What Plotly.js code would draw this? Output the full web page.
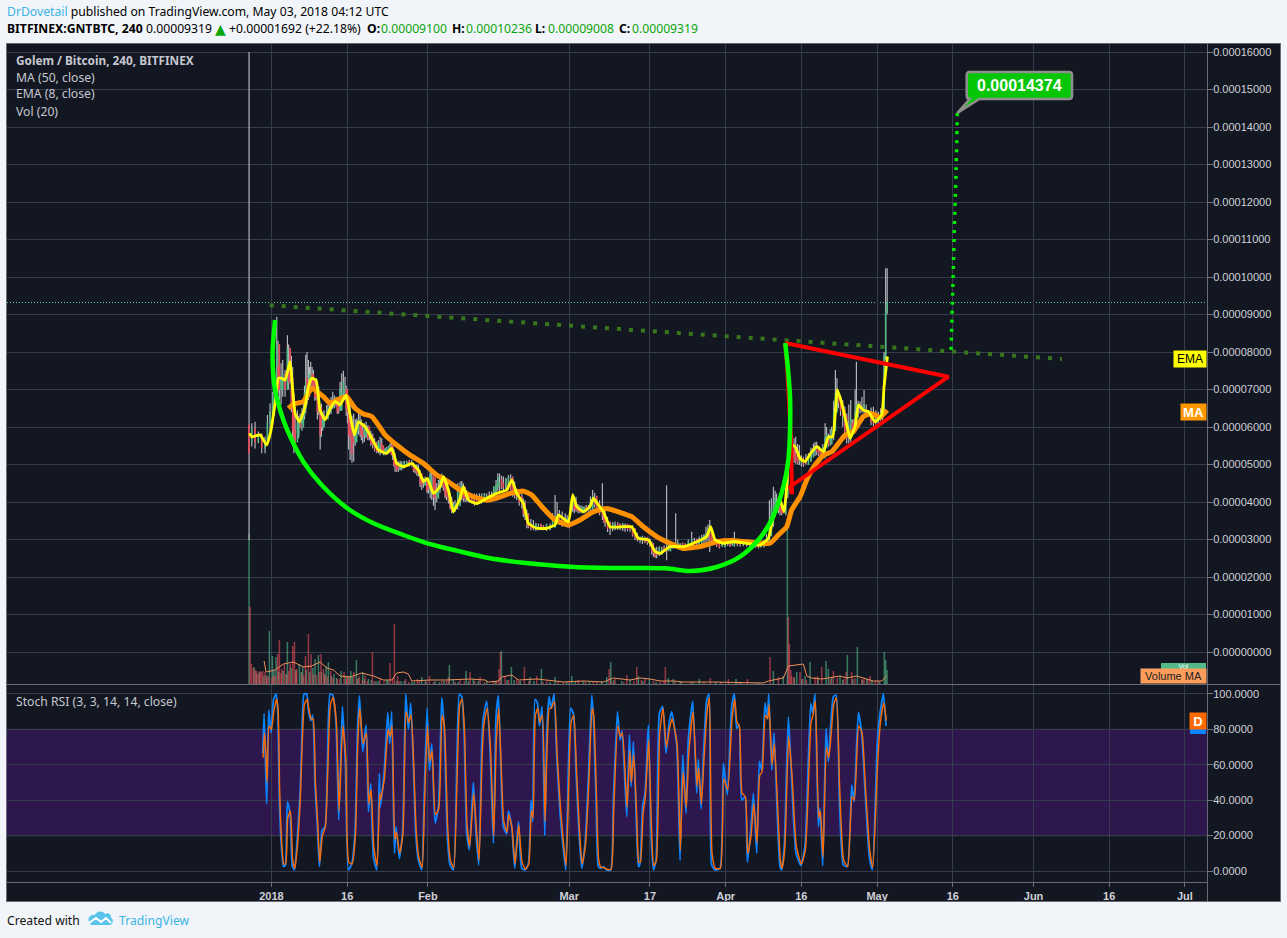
<!DOCTYPE html>
<html><head><meta charset="utf-8">
<script src="https://cdn.plot.ly/plotly-3.0.1.min.js"></script>
<style>html,body{margin:0;padding:0;background:#f1f5f9;overflow:hidden}#c{width:1287px;height:938px}</style>
</head><body><div id="c"></div>
<script>
// Time values are days since 2018-01-01; prices are in satoshi (1e-8 BTC)
const candleDays=[-4.44,-3.9,-3.25,-2.6,-1.93,-1.27,-.8,-.28,.25,1.05,1.57,2.23,2.7,3.16,3.69,4.2,4.68,5.14,5.67,6.33,6.79,7.32,7.78,8.31,8.84,9.37,9.9,10.42,10.95,11.48,12.14,12.8,13.33,13.92,14.58,15.05,15.58,16.3,16.9,17.56,18.09,18.75,19.4,20.07,20.86,21.52,22.18,22.84,23.5,24.03,24.49,25.15,25.81,26.8,27.8,28.46,29.12,29.78,30.44,31.1,31.76,32.42,33.08,33.74,34.4,35.06,35.72,36.38,37.37,38.03,38.69,39.68,40.67,41.66,42.66,43.65,44.5,45.2,45.96,46.95,47.8,48.6,49.6,50.25,50.9,51.9,52.9,53.9,55.2,56.2,57.05,58.2,59,59.69,60.35,61.14,61.94,62.79,63.65,64.45,65.57,66.1,67.09,68.08,69.07,70.06,71.05,72.04,73.03,74,75,75.67,76.33,77.33,78.3,79.1,80.1,80.96,81.95,83.27,84.26,85.25,86.1,86.84,87.7,88.75,89.87,90.87,91.72,92.85,94.17,95.36,96.48,97.6,98.66,99.45,100.1,100.77,101.43,101.9,102.3,102.75,103.2,103.88,104.6,105.4,106.4,107.38,108.04,108.83,109.7,110.35,111,111.74,112.33,113.19,113.98,114.78,115.43,115.9,116.62,117.42,118.28,119.27,120.26,121.1,121.4,121.7,122,
 .6,1.3,1.9,3.4,3.95,4.45,5.4,6.05,6.55,7.05,7.55,8.05,8.6,9.1,9.65,10.15,11.2,11.8,12.45,13.05,13.6,14.25,14.8,15.3,15.95,16.6,17.25,17.8,18.4,19.1,19.7,20.45,21.2,21.85,22.5,23.2,23.75,24.25,24.8,25.5,26.3,27.3,28.15,28.8,29.45,30.1,30.8,31.45,32.1,32.75,33.4,34.05,34.7,35.4,36.05,36.9,37.7,38.35,39.2,40.2,41.2,42.2,43.15,44.05,44.85,45.6,46.45,47.4,48.2,49.1,49.9,50.6,51.4,52.4,53.4,54.5,55.7,56.6,57.6,58.6,60,60.75,61.55,62.35,63.2,64.05,65,65.85,66.6,67.6,68.6,69.6,70.55,71.55,72.5,73.5,74.5,75.35,76,76.85,77.8,78.7,79.6,80.5,81.45,82.6,83.8,84.75,85.7,86.5,87.25,88.2,89.3,90.4,91.3,92.3,93.5,94.8,95.9,97,98.1,99.05,99.8,100.45,101.1,103.55,104.25,105,105.9,106.9,107.7,108.45,109.25,110,110.7,111.4,112.05,112.75,113.6,114.4,115.1,115.65,116.25,117,117.85,118.8,119.75,120.7,121.25];
const candleHigh=[16000,6100,6140,5880,5830,5740,6320,6630,6940,8940,7920,7790,7520,8450,8010,7610,6540,6450,6360,6720,7920,7790,7740,7520,7300,7080,6630,6450,6590,6630,6940,6810,6760,7430,7340,6940,6630,6360,6230,6360,6100,6140,6010,5830,5610,5740,5470,5470,5560,5520,5300,5080,5080,5100,5120,4990,4990,4720,4680,4590,4900,4410,4590,4760,4540,4410,4140,4050,4540,4500,4320,4230,4230,4230,4230,4280,4590,4760,4680,4720,4680,4360,4230,4050,3700,3520,3430,3390,3430,4190,3790,3700,3610,4230,4140,3920,3880,3920,4320,4100,4500,3790,3480,3480,3430,3430,3390,3300,3080,3080,3030,2900,2810,2810,4450,2900,3700,2900,2900,3210,3030,3120,3340,3520,3120,2990,2990,2990,3210,2990,2940,2940,2900,2990,4050,4410,4230,4050,3880,4230,5070,5790,5790,5740,5520,5210,5300,5560,5610,5430,6100,5830,6010,7520,6990,6720,6360,6720,6100,7740,6680,6990,6450,6540,6410,6590,8000,10236,10236,
 7800,8300,7700,8200,7900,6900,6300,6500,7100,8000,7600,7600,7300,7000,6500,6400,6600,6800,6850,6750,7200,7500,7100,6800,6300,6200,6400,6200,6100,6050,5900,5700,5650,5700,5450,5500,5580,5400,5100,5100,5100,5130,5050,5000,4850,4650,4620,4950,4800,4500,4700,4700,4500,4250,4000,4500,4560,4400,4250,4230,4230,4240,4280,4420,4770,4700,4650,4740,4550,4300,4100,3800,3550,3450,3420,3420,3700,4000,3750,3650,4100,3950,3900,3920,4150,4250,4050,3800,3600,3470,3460,3440,3420,3380,3180,3100,3060,2950,2780,2820,2850,2950,2920,3000,2920,3000,3050,3080,3150,3400,3250,3020,2980,3000,3050,3000,2950,2950,2920,2960,3150,4100,4300,4100,3950,5700,5550,5250,5280,5450,5600,5500,5550,6000,5950,6700,7300,6850,6550,6600,6200,7000,6700,6800,6600,6520,6450,6500,6700];
const candleLow=[2990,5480,5430,5570,5300,5300,5520,5880,6100,6990,6720,6810,6810,7080,7165,5480,5480,5830,5960,6190,6360,6720,6990,6990,6720,6320,5740,6050,6230,6320,6540,6540,6360,6540,6760,6100,5120,5080,5790,5740,5570,5700,5650,5430,5300,5250,5250,5300,5340,5120,4810,4810,4850,4940,4940,4760,4680,4320,4450,4230,4050,3790,4140,4410,4100,3960,3700,3740,3960,4010,4010,3960,3920,3960,4050,4050,4230,4280,4320,4320,4140,4050,3830,3520,3300,3250,3250,3250,3250,3340,3390,3340,3300,3740,3740,3700,3700,3740,3880,3790,3520,3340,3120,3250,3250,3210,3210,2990,2900,2900,2810,2540,2500,2630,2450,2760,2760,2760,2720,2810,2810,2850,2900,2670,2940,2760,2810,2810,2810,2810,2810,2810,2760,2810,3080,3340,3880,3650,3700,3650,4100,5070,5030,5030,4990,4940,5030,5210,5250,5210,5160,5480,5560,6280,6500,6010,5560,5610,5830,6190,6360,6360,6280,6010,6140,6190,6400,7800,9008,
 6300,6900,6600,7000,6400,5300,5700,5900,6200,6600,6800,7000,6700,6200,5400,5900,6200,6350,6500,6350,6450,6700,6300,5400,5050,5500,5800,5650,5600,5650,5500,5350,5300,5300,5250,5300,5250,4950,4800,4850,4900,4950,4800,4700,4400,4380,4250,4100,3900,4000,4250,4300,4050,3800,3700,3800,4050,4000,3980,3900,3950,4040,4060,4150,4300,4350,4320,4300,4100,3900,3600,3300,3250,3230,3250,3230,3340,3400,3340,3320,3700,3700,3700,3720,3780,3850,3650,3450,3200,3220,3260,3230,3220,3080,2950,2880,2860,2600,2510,2560,2680,2700,2750,2760,2740,2760,2820,2820,2880,2950,2900,2800,2800,2830,2830,2820,2820,2820,2780,2790,2850,3100,3600,3700,3650,5050,5000,4950,5000,5080,5230,5230,5180,5450,5500,5650,6400,6300,5800,5560,5820,5900,6250,6380,6280,6050,6060,6170,6300];
const candleOpen=[6050,5600,5950,5600,5800,5450,5650,6100,6400,6800,8200,7000,7400,7000,8100,7300,5900,5600,6100,6000,6500,7200,7000,7400,7100,6800,6500,6000,6250,6400,6500,6700,6600,6450,6900,7000,6400,5700,5600,6000,5900,5750,6000,5750,5550,5350,5500,5350,5420,5500,5250,4950,4900,5000,5050,4980,4850,4750,4450,4600,4350,4650,4100,4400,4650,4200,4050,3780,3900,4300,4100,4150,4050,4000,4100,4150,4200,4450,4500,4400,4650,4300,4150,3950,3650,3350,3300,3350,3280,3330,3600,3450,3550,3900,4000,3800,3750,3850,3780,4150,3850,3650,3450,3300,3400,3330,3380,3280,3050,3000,2950,2850,2650,2600,2750,2700,2850,2820,2870,2780,3000,2900,3050,3150,3000,2980,2800,2930,2850,2950,2880,2900,2850,2800,2950,3400,3900,4000,3750,3700,4200,5000,5500,5300,5100,5150,5000,5200,5400,5350,5250,5700,5550,5900,6900,6650,6300,5700,6200,5950,6600,6500,6400,6350,6100,6250,6450,7900,9100,
 6500,7600,7000,7700,7500,6500,5800,6100,6300,7300,6900,7400,7200,6800,6400,6000,6250,6400,6600,6650,6450,6900,7000,6600,6000,5600,5900,6100,5800,5950,5750,5550,5400,5550,5350,5350,5500,5300,5000,4880,4950,5080,5020,4900,4800,4500,4580,4300,4700,4150,4350,4680,4400,4150,3850,3950,4300,4400,4100,4200,3980,4100,4180,4180,4400,4600,4400,4600,4400,4200,4000,3700,3400,3280,3400,3290,3380,3500,3600,3450,3950,3850,3750,3850,3780,4100,3950,3700,3500,3300,3420,3320,3400,3280,3120,3000,3050,2920,2700,2600,2780,2700,2880,2790,2900,2800,2950,2850,3000,3100,3250,2950,2850,2950,2880,3000,2880,2920,2860,2820,2920,3100,3800,4050,3800,5400,5200,5050,5100,5080,5350,5450,5300,5450,5650,5800,6400,6800,6450,5800,6100,5900,6500,6550,6450,6350,6150,6200,6350];
const candleClose=[5300,5950,5600,5800,5450,5650,6100,6400,6800,8200,7000,7400,7000,8100,7300,5900,5600,6100,6000,6500,7200,7000,7400,7100,6800,6500,6000,6250,6400,6500,6700,6600,6450,6900,7000,6400,5700,5600,6000,5900,5750,6000,5750,5550,5350,5500,5350,5420,5500,5250,4950,4900,5000,5050,4980,4850,4750,4450,4600,4350,4650,4100,4400,4650,4200,4050,3780,3900,4300,4100,4150,4050,4000,4100,4150,4200,4450,4500,4400,4650,4300,4150,3950,3650,3350,3300,3350,3280,3330,3600,3450,3550,3400,4000,3800,3750,3850,3780,4150,3850,3650,3450,3300,3400,3330,3380,3280,3050,3000,2950,2850,2650,2600,2750,2700,2850,2820,2870,2780,3000,2900,3050,3150,3000,2980,2800,2930,2850,2950,2880,2900,2850,2800,2950,3400,3900,4000,3750,3720,4200,5000,5500,5300,5100,5150,5000,5200,5400,5350,5250,5700,5550,5900,6900,6650,6300,5700,6200,5950,6600,6500,6600,6350,6100,6250,6450,7900,9100,9319,
 7500,7000,7300,7200,6500,5700,6200,6300,6900,6900,7400,7100,6800,6400,5800,6200,6500,6600,6750,6400,7000,7200,6500,5800,5300,5900,6200,5800,5950,5700,5550,5400,5600,5350,5400,5480,5280,5000,4850,5030,5080,5000,4850,4780,4500,4600,4300,4750,4150,4350,4680,4400,4150,3850,3950,4300,4450,4100,4200,3980,4150,4200,4120,4400,4650,4400,4600,4350,4200,4000,3700,3400,3300,3400,3290,3380,3500,3600,3450,3550,3800,3750,3850,3780,4000,3950,3700,3500,3300,3420,3320,3400,3280,3120,3000,3050,2920,2700,2550,2780,2700,2880,2790,2900,2800,2950,2850,3000,3100,3300,2950,2850,2950,2880,3000,2880,2920,2860,2820,2920,3050,3800,4100,3800,3700,5200,5050,5150,5050,5350,5480,5300,5450,5800,5750,6400,6800,6450,5900,6050,5900,6400,6600,6450,6350,6150,6200,6350,6600];

const emaDays=[-4.37,-3.91,-2.26,-.94,-.14,.72,1.38,2.04,2.7,3.69,4.15,4.68,5.54,6.66,7.32,7.98,8.84,9.63,10.62,11.48,12.6,13.6,14.78,15.58,16.43,17.23,18.55,19.87,21.19,22.84,23.83,24.82,26.14,27.8,29.12,30.11,30.9,32.09,33.41,34.07,35.06,36.05,37.37,38.03,39.02,40.67,42.66,44.64,46.62,47.61,48.6,49.92,50.91,52.56,54.55,56.2,56.86,58.84,59.69,60.48,61.8,63.12,63.79,64.78,65.77,67.09,69.73,71.38,72.7,74.68,76,77,78.98,81.62,83.6,86.24,87.03,87.89,89.54,91.53,94.17,96.81,98.46,99.45,100.77,101.57,102.09,102.75,103.74,104.74,105.73,107.05,108.04,109.36,110.35,111.21,112.13,113,113.85,114.64,115.63,116.29,117.28,118.28,119.6,120.92,121.38,122.04];
const emaValues=[5830,5740,5790,5520,5880,6630,7300,7300,7250,7740,7080,6360,6140,6540,7080,7300,7250,6450,6190,6450,6680,6590,6850,6320,5790,6140,6010,5700,5390,5300,5430,5030,4940,5030,4850,4540,4630,4230,4410,4680,4320,3740,4100,4410,4050,3960,4100,4230,4320,4590,4230,3960,3430,3300,3300,3390,3650,3470,4190,3880,3740,3880,4100,3920,3740,3340,3340,3340,3030,2990,2680,2630,2810,2810,2900,3080,3340,2990,2900,2940,2900,2850,3030,3610,4050,3740,4410,5520,5480,5160,5080,5340,5480,5340,5740,5740,6990,6630,6140,5700,6010,6590,6450,6410,6140,6320,7080,7880];

const maDays=[3.36,4.35,6.33,7.98,10.3,11.61,13.6,14.91,16.57,18.22,19.87,21.19,22.51,24.82,27.47,30.11,32.75,35.06,37.37,40,42.66,44.97,47.28,49.92,51.57,53.55,56.2,58.84,61.14,63.79,66.43,68.74,71.38,73.69,76.33,78.98,81.62,84.92,88.22,91.53,95.49,98.79,100.44,102.09,103.08,104.74,106.06,107.71,109.36,111,113.65,115.3,117.28,118.93,120.59,122];
const maValues=[6500,6610,6680,7030,6810,6630,6760,6810,6500,6350,6280,6050,5790,5520,5250,5030,4720,4540,4320,4140,4050,4120,4230,4290,4190,3880,3520,3390,3520,3740,3830,3740,3610,3340,3080,2900,2760,2810,2940,2970,2920,2900,3120,3340,3790,4140,4590,4990,5250,5340,5780,5880,6280,6360,6260,6450];

const volUpDays=[-4.44,-3.45,-.41,.19,.91,3.16,5.54,6.2,8.64,9.3,10.82,11.28,12.4,13.79,15.71,16.83,18.09,19.21,20.73,22.84,25.68,27.8,29.78,32.42,35.26,36.05,38.56,40,42.66,45.56,47.55,51.24,53.49,56.2,59.5,61.81,65.44,66.43,67.23,69.4,71.06,72.71,74.88,78.64,79.64,84.79,92.05,99.45,101.43,102.22,104.07,105.73,106.72,109.89,110.35,112.66,114.11,116.09,117.94,121.44,121.71,121.97,
 -3,-2.4,-1.5,-1,.5,1.4,2.3,2.9,3.9,4.8,5.9,6.9,7.6,8.2,9.9,10.5,11.9,12.9,14.7,15.3,16,17.2,18.4,19.8,21.2,23.1,24.8,26.3,28.3,30.5,33.3,34.2,37,39,41,44.4,46.7,48.1,49.3,52,55.2,58.5,60.2,63,67.8,73.6,76.2,81,83.5,88,93,96.7,103.6,105.1,108.3,111,113.2,115.2,117.1,119,120.5];
const volUp=[150,17,53,28,27,42,20,18,25,29,18,22,10,13,13,24,12,5,3,4,3,2,7,3,19,5,13,5,3,33,17,7,15,7,8,3,3,7,22,3,4,8,5,6,5,5,5,13,8,160,12,8,22,23,15,8,29,37,5,32,24,14,
 10,12,8,9,14,12,13,10,16,14,12,14,12,16,12,10,8,6,7,8,7,6,5,4,3,3,3,3,2,3,2,3,2,3,3,3,4,4,3,3,2,2,3,2,4,3,2,2,2,2,2,1,6,5,5,6,4,5,4,3,2];
const volDownDays=[-4.24,-3.97,-2.92,-2.26,-1.73,-1.27,-.6,.72,1.24,1.57,2.04,2.56,3.69,4.22,4.55,5.01,6.73,7.32,7.85,9.83,10.3,11.75,13.07,14.39,15.05,16.3,17.43,18.55,20,21.52,23.5,24.36,25,26.6,28.92,31.3,33.74,35.06,37.37,39.35,41.34,43.98,45.1,45.36,46.29,48.6,50.12,52.56,54.55,57.85,60.82,63.79,66.9,68.08,70.4,72.38,74.02,75.67,76.99,78.05,81.3,86.97,90.53,94.3,98.79,100.44,102.42,102.62,103.08,104.73,107.71,109.03,111.34,113.85,114.97,116.95,118.6,119.6,
 -3.6,-3.2,-2.6,-2,-.9,.1,.4,1.9,3,3.4,4.9,6,6.4,8.3,8.9,9.5,10.6,11.1,12.2,13.5,14.9,15.5,17,18,19,20.4,22.3,24,25.3,27.2,29.3,30.7,32.1,34.7,36.4,38.2,40.3,42.2,44.6,47,49,51,53.8,56.8,59,62.2,64.5,67.4,69.8,71.8,73.3,77.8,80,83,85.7,89,92.6,96,102.9,103.5,105.3,106,108.2,110.7,112.1,113.4,115.6,117.4,118.2,120.2];
const volDown=[77,20,13,13,13,12,8,8,30,44,15,20,20,38,42,15,28,50,30,30,15,13,5,12,7,12,8,8,32,5,21,60,8,5,5,8,3,7,4,12,7,2,15,32,8,5,17,8,3,2,4,3,15,5,9,17,5,3,2,17,2,6,5,5,27,7,67,40,8,12,7,17,13,12,12,5,8,3,
 16,14,10,12,7,6,8,11,9,13,12,11,8,10,9,12,9,7,6,5,5,6,5,4,3,3,3,5,3,2,3,2,2,3,2,3,3,2,3,4,3,3,2,2,3,2,2,3,2,3,4,3,2,2,2,2,2,1,14,7,5,4,8,5,6,5,6,5,4,3];
const volMaDays=[-1.46,-1.07,.72,2.37,4.35,6.33,7.98,9.63,10.95,12.27,13.6,15.58,17.89,20.2,22.18,23.83,24.82,26.14,27.13,27.8,31.43,34.73,39.35,42.33,42.99,44.97,45.63,47.61,48.93,52.56,56.2,57.85,61.81,65.77,67.75,71.06,73.03,75.01,77,79.64,81.62,87.56,97.47,98.46,101.43,102.42,105.4,106.06,107.05,109.03,112.66,113.98,115.96,119.27,120.92,121.9];
const volMa=[23,12,14,20,22,17,18,22,16,14,8,7,11,8,4,4,11,12,10,3,4,4,5,4,2,3,7,9,4,5,3,2,3,2,6,4,6,5,3,3,2,2,1,3,6,18,20,8,6,5,8,6,8,3,3,8];

const stochDays=[-1.73,-1.46,-1.2,-.94,-.54,-.08,.39,.91,1.24,1.57,1.97,2.37,2.76,3.16,3.69,4.15,4.55,5.01,5.67,6,6.46,6.99,7.32,7.78,8.18,8.64,9.1,9.5,10.03,10.62,11.08,11.61,12.14,12.8,13.33,14.06,14.65,15.25,15.91,16.57,17.03,17.43,18.09,18.75,19.21,19.67,20.2,20.86,21.39,21.52,22.31,23.04,23.44,23.83,24.36,24.69,25.35,26.01,26.6,27.13,27.6,28.13,28.59,29.12,29.78,30.24,30.83,31.3,31.76,32.42,33.08,33.74,34.2,34.86,35.39,36.05,36.71,37.24,37.7,38.17,38.69,39.22,40,40.54,41.07,41.67,42,42.66,43.32,43.98,44.5,44.97,45.5,45.96,46.62,46.95,47.61,48.2,48.93,49.59,50.25,50.91,51.44,51.77,52.23,52.7,53.09,53.62,54.15,54.55,55,55.4,56,56.53,57.19,57.72,58.31,58.84,59.3,59.83,60.36,60.95,61.48,62.14,62.8,63.46,63.79,64.32,64.78,65.25,65.77,66.43,67.23,67.75,68.55,69.08,69.47,70.4,70.93,71.26,71.72,72.38,72.71,73.03,73.56,74.02,74.68,75.21,75.67,76.2,76.86,77.52,78.18,78.78,79.3,80.3,80.96,81.48,82.14,82.61,83.47,84.26,84.59,85.12,85.58,86.24,86.7,87.23,87.89,88.88,89.54,90.33,91.19,91.72,92.18,92.65,93.18,93.84,94.3,94.96,95.49,96.15,96.68,97.14,97.8,98.26,98.53,99.12,99.58,100.24,100.77,101.1,101.63,102.42,103.08,103.94,104.93,105.73,106.85,107.24,107.7,108.36,108.7,109.23,109.89,110.35,110.68,111.34,111.87,112.53,113.32,114.11,114.97,115.43,116.29,116.95,117.61,118.47,119.07,120.06,120.59,121.25,121.77];
const stochK=[66.5,89,62.7,38,91,78,96.6,100,91,40,14,2.5,3.4,39,32.6,2.5,.6,13.8,44,72,100,100,91,85,88,47.7,25,2.5,23,25,59,100,99.4,83.4,29,93,60,.6,4,23,78,99,67.4,82.5,33.5,49.5,8,.6,55,36,55,89.5,72,90,10,25,7,23,100,80,95,59,21,6,.6,40,92,57,72,27,36,98,82,19.4,3.4,.6,59,100,98.5,78,21,12,50,21,3.4,72,87,96,68,15.6,87,99,53,25,21,34,25,1.5,28,1.5,.6,4,40,28,97,95,82,93,20,78,98.5,92,100,64.6,32.6,15.6,.6,59,92,89,55,21,1.5,15.6,53,99.4,87,40,2.5,1.5,2.5,.6,.6,40,90,74,79,30.7,77,47.7,73,21,2.5,4.3,37,44,82.5,21,.6,6,89,93,66.5,83,90,71,6,65.5,32.6,75,96,44,63,35,65,96.6,100,3.4,.6,1.5,60.8,43,93,100,80.6,82.5,40,42,5,23,44,10,62,57,95,86,100,57,78,30.7,2.5,.6,15,87,51,10,3,14.7,94.7,89,100,25,35.4,3,80.6,61.8,76.8,98.5,99.4,40,3.4,2.5,48.6,39,89.5,77.8,45.8,8,.6,73,89,100,82];
const stochD=[64,78,68,50,82,80,90,97,92,44,16,4,4,30,34,6,1.5,12,42,70,94,97,92,86,86,50,27,5,20,25,56,94,98,84,34,82,64,5,4,20,72,92,72,78,38,46,14,3,44,40,52,80,76,82,18,22,10,22,90,84,88,60,24,8,2,36,82,62,68,32,35,88,82,24,6,2,52,94,97,80,26,14,44,24,6,64,82,92,70,20,74,92,56,28,22,32,24,4,26,5,1,4,34,30,88,92,84,88,28,70,92,92,96,66,36,18,3,50,84,88,58,24,4,14,48,92,88,44,6,2,2,1,1,34,82,76,78,36,68,50,66,26,5,5,32,42,74,26,3,6,78,92,70,80,86,72,12,56,36,66,90,48,58,38,60,90,98,10,1.5,1.5,52,46,86,97,84,82,44,42,10,20,38,16,54,56,88,86,94,60,72,36,6,1.5,12,76,54,14,4,12,84,88,96,30,34,8,70,64,72,94,98,46,6,2.5,42,40,82,78,48,12,2,62,84,95,85];
const stochDLagDays=0.07;

const bowlDays=[.71,.24,.32,.71,2.36,4.34,6.32,9.63,15.04,20.19,26.13,30.89,36.72,43.31,49.91,59.16,67.09,78.13,82.96,88.23,92.85,96.8,99.38,101.43,102.42,102.75,102.75,102.3,101.8];
const bowlPrice=[8854,8054,7468,6987,6187,5566,5075,4499,3832,3432,3120,2899,2702,2499,2382,2275,2240,2232,2160,2267,2542,3040,3608,4408,5121,5921,6809,7609,8241];
const wedgeDays=[101.8,134.13,102.75,103.15,102.95,102.55,102.16,101.8];
const wedgePrice=[8241,7342,4408,4214,5654,6854,7654,8241];
const necklineDays=[-.34,156.6];
const necklinePrice=[9246,7814];
const targetDays=[135.9,135.65,135.3,135,134.65];
const targetPrice=[14374,12855,11255,9655,8054];
const lastClose=9319;

const priceTicks=[0,1000,2000,3000,4000,5000,6000,7000,8000,9000,10000,11000,12000,13000,14000,15000,16000];
const stochTicks=[0,20,40,60,80,100];
const stochLabels=['0.0000','20.0000','40.0000','60.0000','80.0000','100.0000'];
const timeTicks=['2018-01-01','2018-01-16','2018-02-01','2018-03-01','2018-03-17','2018-04-01','2018-04-16','2018-05-01','2018-05-16','2018-06-01','2018-06-16','2018-07-01'];
const timeLabels=['2018','16','Feb','Mar','17','Apr','16','May','16','Jun','16','Jul'];

const dayMs=864e5, epoch=Date.UTC(2018,0,1);
const T=d=>new Date(epoch+d*dayMs).toISOString();
const S=v=>v*1e-8;
const PX=x=>x/1287, PY=y=>1-y/938;
const FONT='Liberation Sans, Arial, sans-serif', UI='"Noto Sans", sans-serif';

const wickColor='#bfc1c7';
const traces=[
 {type:'bar',x:volUpDays.map(T),y:volUp,yaxis:'y',xaxis:'x',width:0.3*dayMs,marker:{color:'rgba(83,185,135,0.62)'}},
 {type:'bar',x:volDownDays.map(T),y:volDown,yaxis:'y',xaxis:'x',width:0.3*dayMs,marker:{color:'rgba(235,77,92,0.6)'}},
 {type:'scatter',mode:'lines',x:volMaDays.map(T),y:volMa,yaxis:'y',line:{color:'#ef9058',width:1}},
 {type:'candlestick',x:candleDays.map(T),open:candleClose.map(S),close:candleClose.map(S),high:candleHigh.map(S),low:candleLow.map(S),yaxis:'y2',whiskerwidth:0,
  increasing:{line:{color:wickColor,width:1.1}},decreasing:{line:{color:wickColor,width:1.1}}},
 {type:'candlestick',x:candleDays.map(T),open:candleOpen.map(S),close:candleClose.map(S),
  high:candleOpen.map((o,i)=>S(Math.max(o,candleClose[i]))),low:candleOpen.map((o,i)=>S(Math.min(o,candleClose[i]))),yaxis:'y2',whiskerwidth:0,
  increasing:{line:{color:'#53b987',width:1.2},fillcolor:'#53b987'},decreasing:{line:{color:'#eb4d5c',width:1.2},fillcolor:'#eb4d5c'}},
 {type:'scatter',mode:'lines',x:maDays.map(T),y:maValues.map(S),yaxis:'y2',line:{color:'#ff9000',width:5,shape:'spline',smoothing:0.4}},
 {type:'scatter',mode:'lines',x:emaDays.map(T),y:emaValues.map(S),yaxis:'y2',line:{color:'#ffff00',width:2.8,shape:'spline',smoothing:0.4}},
 {type:'scatter',mode:'lines',x:necklineDays.map(T),y:necklinePrice.map(S),yaxis:'y2',line:{color:'#38761d',width:4,dash:'4px,8px'}},
 {type:'scatter',mode:'lines',x:targetDays.map(T),y:targetPrice.map(S),yaxis:'y2',line:{color:'#00ee00',width:3.5,dash:'3px,6px',shape:'spline'}},
 {type:'scatter',mode:'lines',x:wedgeDays.map(T),y:wedgePrice.map(S),yaxis:'y2',line:{color:'#ff0000',width:4,join:'miter'}},
 {type:'scatter',mode:'lines',x:bowlDays.map(T),y:bowlPrice.map(S),yaxis:'y2',line:{color:'#00ff00',width:4.5,shape:'spline',smoothing:0.8}},
 {type:'scatter',mode:'lines',x:stochDays.map(T),y:stochK,yaxis:'y3',line:{color:'#0a84ff',width:1.8,shape:'spline',smoothing:0.5}},
 {type:'scatter',mode:'lines',x:stochDays.map(d=>T(d+stochDLagDays)),y:stochD,yaxis:'y3',line:{color:'#ff6a00',width:1.4,shape:'spline',smoothing:0.5}}
];

const rect=(x0,y0,x1,y1,fill,layer)=>({type:'rect',xref:'paper',yref:'paper',x0:PX(x0),x1:PX(x1),y0:PY(y0),y1:PY(y1),fillcolor:fill,line:{width:0},layer:layer||'above'});
const hline=(x0,x1,y,c)=>({type:'line',xref:'paper',yref:'paper',x0:PX(x0),x1:PX(x1),y0:PY(y),y1:PY(y),line:{color:c,width:1},layer:'above'});
const vline=(x,y0,y1,c)=>({type:'line',xref:'paper',yref:'paper',x0:PX(x),x1:PX(x),y0:PY(y0),y1:PY(y1),line:{color:c,width:1},layer:'above'});
const frame='#6a6c75';
const shapes=[
 rect(6,43,1281,901,'#131722','below'),
 {type:'rect',xref:'x domain',yref:'y3',x0:0,x1:1,y0:20,y1:80,fillcolor:'rgba(153,21,255,0.2)',line:{width:0},layer:'below'},
 {type:'line',xref:'x domain',yref:'y3',x0:0,x1:1,y0:80,y1:80,line:{color:'#7c7885',width:1,dash:'6px,3px'},layer:'below'},
 {type:'line',xref:'x domain',yref:'y3',x0:0,x1:1,y0:20,y1:20,line:{color:'#7c7885',width:1,dash:'6px,3px'},layer:'below'},
 {type:'line',xref:'x domain',yref:'y2',x0:0,x1:1,y0:S(lastClose),y1:S(lastClose),line:{color:'#53d6a5',width:1,dash:'1px,2px'},layer:'below'},
 hline(6,1281,43.5,frame),hline(6,1281,684.5,frame),hline(6,1207,882.5,frame),hline(6,1281,901.5,frame),
 vline(6.5,43,901,frame),vline(1207.5,43,901,frame),vline(1280.5,43,901,frame),
 // target callout, anchored at the target price
 {type:'path',xref:'x',yref:'y2',xsizemode:'pixel',ysizemode:'pixel',xanchor:T(135.9),yanchor:S(14374),
  path:'M 0 0 L 12.4 14 Q 9.4 14 9.4 17 L 9.4 38 Q 9.4 41 12.4 41 L 111.7 41 Q 114.7 41 114.7 38 L 114.7 17 Q 114.7 14 111.7 14 L 22 14 Z',
  fillcolor:'#07c507',line:{color:'#8f8f8f',width:2.5}},
 rect(1161,663,1206,672,'#53b987'),
 rect(1190,718,1206,734,'#0a84ff'),
 // TradingView logo in the footer
 {type:'path',xref:'paper',yref:'paper',xsizemode:'pixel',ysizemode:'pixel',xanchor:PX(88),yanchor:PY(926),
  path:'M 1 4 C -1 8 3 12 7 11 C 8 15 15 16 17 12 C 20 14 24 11 23 8 C 26 7 25 1 22 1 L 3 1 Z',fillcolor:'#5bc4ec',line:{width:0}},
 {type:'path',xref:'paper',yref:'paper',xsizemode:'pixel',ysizemode:'pixel',xanchor:PX(88),yanchor:PY(926),
  path:'M 1 3 L 8 8 L 13 4 L 18 8 L 23 3',line:{color:'#ffffff',width:2}}
];

const note=(text,x,y,o)=>Object.assign({xref:'paper',yref:'paper',x:PX(x),y:PY(y),text,showarrow:false,xanchor:'left',yanchor:'middle',align:'left',borderpad:0,
  font:{family:UI,size:12.2,color:'#000'}},o||{});
const gf={font:{family:UI,size:12.2,color:'#0ca50c'}};
const lg={family:UI,size:12.2,color:'#c5c8d0'};
const tag=(text,x0,x1,y0,y1,bg,fg,size)=>({xref:'paper',yref:'paper',x:PX((x0+x1)/2),y:PY((y0+y1)/2),text,showarrow:false,xanchor:'center',yanchor:'middle',
  width:x1-x0,height:y1-y0,bgcolor:bg,borderpad:0,font:{family:FONT,size:size||11,color:fg}});
const annotations=[
 note('<span style="color:#3bb3e4">DrDovetail</span> published on TradingView.com, May 03, 2018 04:12 UTC',6,12),
 note('<b>BITFINEX:GNTBTC, 240</b>',6,29),
 note('0.00009319',144.5,29),
 note('▲',214,29,{font:{family:'DejaVu Sans, sans-serif',size:14,color:'#0ca50c'}}),
 note('+0.00001692 (+22.18%)',228,29),
 note('<b>O:</b>',366,29),note('0.00009100',380,29,gf),
 note('<b>H:</b>',451,29),note('0.00010236',465,29,gf),
 note('<b>L:</b>',533.5,29),note('0.00009008',547,29,gf),
 note('<b>C:</b>',618,29),note('0.00009319',630.5,29,gf),
 note('<b>Golem / Bitcoin, 240, BITFINEX</b>',15,60,{font:{family:UI,size:11.8,color:'#c5c8d0'}}),
 note('MA (50, close)',15,77,{font:lg}),
 note('EMA (8, close)',15,94,{font:lg}),
 note('Vol (20)',15,111,{font:lg}),
 note('Stoch RSI (3, 3, 14, 14, close)',15,701,{font:lg}),
 note('Created with',6,920,{font:{family:UI,size:12.2,color:'#111'}}),
 note('TradingView',118,920,{font:{family:UI,size:12.2,color:'#3bb3e4'}}),
 {xref:'x',yref:'y2',x:T(135.9),y:S(14374),xshift:62,yshift:27.5,text:'<b>0.00014374</b>',showarrow:false,font:{family:FONT,size:16,color:'#fff'}},
 tag('EMA',1174,1206,351,366.5,'#ffff00','#000',12),
 tag('<b>MA</b>',1181,1206,404,420,'#ff9800','#fff',13),
 tag('Vol',1161,1206,663,669,'rgba(0,0,0,0)','#fff',7),
 tag('Volume MA',1141,1206,669,683,'#ff9d5c','#222',11),
 tag('<b>D</b>',1190,1206,713,729,'#ff6a00','#fff',13)
];

const axisFont={family:FONT,size:11,color:'#cfd1d6'};
const grid='#363c4e';
const layout={
 width:1287,height:938,margin:{l:0,r:0,t:0,b:0},paper_bgcolor:'#f1f5f9',plot_bgcolor:'rgba(0,0,0,0)',
 showlegend:false,barmode:'overlay',hovermode:false,
 xaxis:{type:'date',domain:[PX(7),PX(1207)],range:[T(-52.4),T(185.37)],anchor:'y3',tickmode:'array',tickvals:timeTicks,ticktext:timeLabels,
  tickfont:Object.assign({weight:'bold'},axisFont),ticks:'outside',ticklen:4,tickcolor:'#777',gridcolor:grid,gridwidth:1,showline:false,zeroline:false,
  rangeslider:{visible:false}},
 yaxis:{domain:[PY(684),PY(43)],range:[0,641],visible:false,fixedrange:true},
 yaxis2:{domain:[PY(684),PY(43)],overlaying:'y',side:'right',anchor:'x',range:[S(-853),S(16240)],tickmode:'array',tickvals:priceTicks.map(S),tickformat:'.8f',
  tickfont:axisFont,ticks:'outside',ticklen:5,tickcolor:'#777',ticklabelstandoff:-2,gridcolor:grid,gridwidth:1,showgrid:true,zeroline:false,showline:false},
 yaxis3:{domain:[PY(882),PY(685)],side:'right',anchor:'x',range:[-6.2,105.08],tickmode:'array',tickvals:stochTicks,ticktext:stochLabels,
  tickfont:axisFont,ticks:'outside',ticklen:5,tickcolor:'#777',ticklabelstandoff:-2,gridcolor:grid,gridwidth:1,showgrid:true,zeroline:false,showline:false},
 shapes,annotations
};
Plotly.newPlot('c',traces,layout,{displayModeBar:false,responsive:false});
</script></body></html>
